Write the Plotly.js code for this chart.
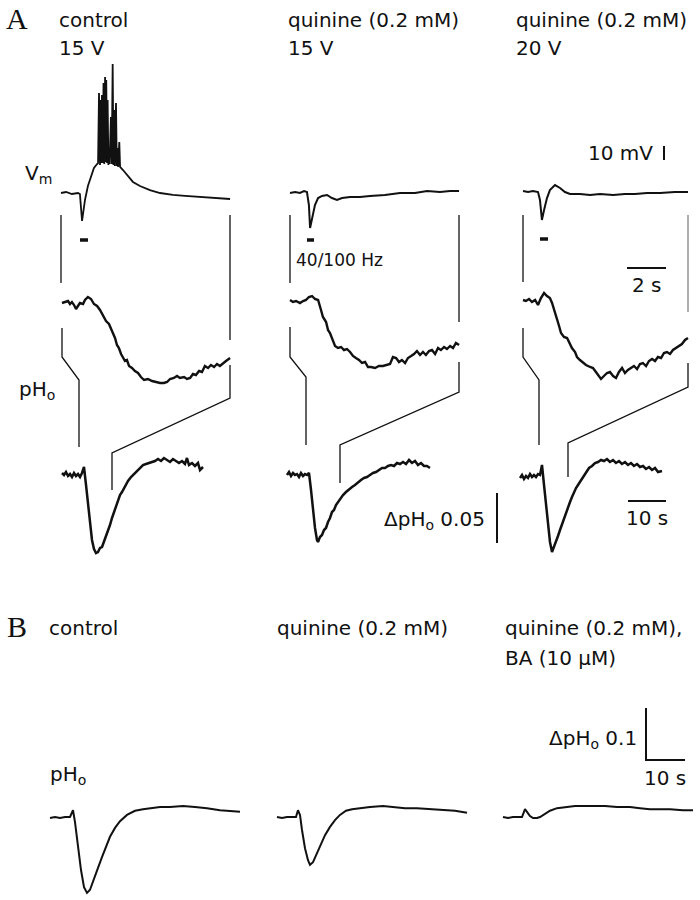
<!DOCTYPE html>
<html><head><meta charset="utf-8">
<script src="https://cdn.plot.ly/plotly-3.0.1.min.js"></script>
<style>html,body{margin:0;padding:0;background:#fff}</style>
</head><body><div id="chart" style="width:700px;height:900px"></div>
<script>
// ---------------- DATA (time in s, Vm in mV rel. to rest, pH change in pH units) ----------------
// Panel A, membrane potential traces (Vm)
const vmCtrlT = [0,0.26,0.56,0.87,0.97,1.03,1.08,1.13,1.23,1.38,1.54,1.69,1.85,1.90,1.95,2.0,2.04,2.07,2.10,2.14,2.18,2.22,2.26,2.29,2.32,2.36,2.39,2.43,2.46,2.49,2.56,2.60,2.65,2.69,2.72,2.76,2.82,2.86,2.90,2.93,2.99,3.03,3.18,3.44,3.69,4.05,4.56,5.08,5.74,6.36,7.13,7.90,8.67];
const vmCtrlV = [0,0.7,-0.7,0,-0.7,-8.6,-20,-15,-5,5,12.1,17.9,20.7,21.4,71.4,20,66.4,21.4,70,21.4,78.6,20.7,82.9,22.1,80.7,21.4,66.4,20,30.7,20.7,54.3,20.7,92.1,20,59.3,19.3,64.3,19.3,32.1,18.6,36.4,18.6,16.4,12.1,7.9,5,2.1,0,-1.4,-2.1,-2.9,-3.6,-4.3];
const vmQ15T = [0,0.26,0.51,0.72,0.87,0.97,1.03,1.13,1.28,1.44,1.64,1.90,2.15,2.41,2.67,3.08,3.59,4.10,4.87,5.64,6.41,7.03,7.69,8.21,8.67];
const vmQ15V = [0,0.7,0,1.4,0.7,-8.6,-25,-17.9,-8.6,-3.6,-2.1,-1.4,-3.6,-5,-3.6,-2.9,-2.9,-2.1,-1.4,0,0,1.4,0.7,1.4,1.4];
const vmQ20T = [0,0.26,0.51,0.77,0.87,0.97,1.08,1.23,1.38,1.64,1.90,2.15,2.41,2.92,3.44,3.95,4.62,5.23,5.74,6.36,7.03,7.79,8.46];
const vmQ20V = [1.4,0.7,1.4,0.7,-5,-19.3,-12.1,-3.6,2.1,5.7,3.6,0.7,-0.7,-0.7,-1.4,-0.7,-1.4,-0.7,-0.7,0,0,0.7,0.7];

// Panel A, pHo on the expanded time base (middle row)
const phMidCtrlT = [0.05,0.21,0.36,0.46,0.56,0.67,0.77,0.87,0.97,1.13,1.23,1.38,1.54,1.69,1.85,2.0,2.15,2.31,2.46,2.62,2.77,2.87,2.97,3.08,3.18,3.28,3.38,3.49,3.64,3.79,3.95,4.10,4.26,4.46,4.67,4.87,5.08,5.28,5.44,5.59,5.79,5.95,6.10,6.31,6.46,6.62,6.77,6.92,7.08,7.23,7.38,7.54,7.69,7.85,8.0,8.15,8.31,8.46,8.67];
const phMidCtrlV = [-0.003,-0.002,-0.001,-0.004,-0.002,-0.005,-0.009,-0.006,-0.003,-0.004,0,0.003,0.001,-0.004,-0.006,-0.010,-0.015,-0.021,-0.024,-0.031,-0.038,-0.045,-0.048,-0.054,-0.057,-0.061,-0.060,-0.066,-0.068,-0.071,-0.073,-0.077,-0.080,-0.079,-0.081,-0.082,-0.083,-0.083,-0.082,-0.079,-0.078,-0.076,-0.078,-0.077,-0.079,-0.078,-0.074,-0.075,-0.071,-0.072,-0.066,-0.068,-0.065,-0.067,-0.064,-0.066,-0.063,-0.061,-0.058];
const phMidQ15T = [0,0.15,0.31,0.51,0.67,0.82,0.97,1.13,1.28,1.44,1.59,1.69,1.85,1.95,2.05,2.21,2.31,2.46,2.62,2.77,2.92,3.08,3.23,3.38,3.54,3.69,3.85,4.0,4.15,4.36,4.56,4.77,4.97,5.13,5.28,5.44,5.59,5.74,5.90,6.05,6.21,6.36,6.51,6.67,6.82,6.97,7.13,7.28,7.44,7.59,7.74,7.90,8.05,8.21,8.36,8.51,8.67];
const phMidQ15V = [0,-0.002,-0.001,-0.003,-0.001,0,0.003,0.004,0.001,0,-0.010,-0.017,-0.022,-0.030,-0.033,-0.040,-0.046,-0.048,-0.047,-0.050,-0.049,-0.052,-0.056,-0.058,-0.060,-0.063,-0.062,-0.067,-0.067,-0.068,-0.066,-0.066,-0.065,-0.064,-0.057,-0.058,-0.062,-0.060,-0.063,-0.058,-0.056,-0.054,-0.051,-0.055,-0.052,-0.055,-0.051,-0.050,-0.054,-0.048,-0.050,-0.047,-0.049,-0.046,-0.048,-0.043,-0.045];
const phMidQ20T = [0,0.15,0.31,0.46,0.62,0.77,0.92,1.08,1.23,1.38,1.49,1.64,1.74,1.85,1.95,2.10,2.26,2.41,2.51,2.67,2.77,2.92,3.08,3.23,3.44,3.59,3.74,3.90,4.0,4.15,4.31,4.46,4.62,4.77,4.92,5.08,5.23,5.38,5.54,5.69,5.85,6.0,6.15,6.31,6.46,6.62,6.77,6.92,7.08,7.23,7.38,7.54,7.69,7.85,8.0,8.15,8.31,8.46];
const phMidQ20V = [0,-0.001,0.001,-0.002,0,-0.005,0.002,0.007,0.004,0.002,-0.003,-0.012,-0.018,-0.026,-0.033,-0.037,-0.038,-0.044,-0.048,-0.052,-0.057,-0.060,-0.063,-0.065,-0.067,-0.068,-0.072,-0.076,-0.079,-0.076,-0.073,-0.072,-0.076,-0.078,-0.072,-0.068,-0.073,-0.070,-0.068,-0.066,-0.069,-0.064,-0.063,-0.066,-0.061,-0.059,-0.061,-0.057,-0.058,-0.053,-0.052,-0.054,-0.050,-0.048,-0.046,-0.044,-0.040,-0.038];

// Panel A, pHo on the slow time base (bottom row)
const phSlowCtrlT = [0,0.53,1.05,1.58,2.11,2.63,3.16,3.68,4.21,4.74,5.26,5.79,6.32,6.84,7.37,7.89,8.42,8.95,9.47,10.0,10.53,11.05,11.58,12.11,12.63,13.16,13.68,14.21,14.74,15.26,15.79,16.58,17.37,18.16,18.95,19.74,20.53,21.32,22.11,22.89,23.68,24.47,25.26,26.05,26.84,27.63,28.42,29.21,30.0,30.79,31.58,32.37,32.89,33.42,34.21,35.0,35.79,36.32,37.11];
const phSlowCtrlV = [0.002,0,0.003,-0.001,0.001,-0.002,0.002,-0.001,0.001,-0.002,0.002,0.008,-0.010,-0.030,-0.050,-0.065,-0.074,-0.078,-0.077,-0.073,-0.072,-0.067,-0.062,-0.056,-0.050,-0.043,-0.037,-0.032,-0.025,-0.020,-0.017,-0.011,-0.006,-0.002,0.001,0.005,0.007,0.010,0.011,0.012,0.013,0.014,0.016,0.014,0.017,0.015,0.013,0.016,0.014,0.012,0.014,0.011,0.017,0.010,0.012,0.009,0.012,0.005,0.008];
const phSlowQ15T = [0,0.53,1.05,1.58,2.11,2.63,3.16,3.68,4.21,4.74,5.26,5.79,6.32,6.84,7.37,7.89,8.16,8.68,9.21,9.74,10.26,10.79,11.32,11.84,12.37,12.89,13.42,13.95,14.74,15.53,16.32,17.11,17.89,18.68,19.47,20.26,21.05,21.84,22.63,23.42,24.21,25.0,25.79,26.58,27.37,28.16,28.95,29.74,30.53,31.32,32.11,32.89,33.68,34.47,35.26,36.05,36.84,37.63];
const phSlowQ15V = [0,0.003,-0.001,0.002,0,0.001,-0.002,0.002,-0.001,0.001,0,0.002,-0.015,-0.035,-0.053,-0.065,-0.067,-0.062,-0.060,-0.055,-0.053,-0.047,-0.043,-0.037,-0.035,-0.030,-0.027,-0.024,-0.020,-0.017,-0.014,-0.012,-0.010,-0.007,-0.005,-0.003,-0.002,0,0.002,0.003,0.005,0.007,0.007,0.009,0.010,0.009,0.012,0.011,0.013,0.011,0.015,0.012,0.014,0.010,0.012,0.009,0.009,0.007];
const phSlowQ20T = [0,0.53,1.05,1.58,2.11,2.63,3.16,3.68,4.21,4.74,5.26,5.79,6.32,6.84,7.37,7.89,8.42,8.95,9.47,10.0,10.53,11.05,11.58,12.11,12.63,13.16,13.68,14.21,14.74,15.26,15.79,16.58,17.37,18.16,18.95,19.74,20.53,21.32,22.11,22.89,23.68,24.47,25.26,26.05,26.84,27.63,28.42,29.21,30.0,30.79,31.58,32.37,33.16,33.95,34.74,35.53,36.32,37.37];
const phSlowQ20V = [-0.003,0,-0.004,-0.001,-0.003,0.001,-0.002,0,-0.002,0.001,0,0.010,-0.010,-0.030,-0.050,-0.067,-0.077,-0.072,-0.067,-0.061,-0.055,-0.049,-0.043,-0.037,-0.031,-0.027,-0.022,-0.017,-0.013,-0.010,-0.007,-0.002,0.003,0.007,0.009,0.012,0.013,0.015,0.014,0.016,0.013,0.015,0.012,0.014,0.011,0.013,0.010,0.012,0.009,0.011,0.008,0.009,0.006,0.008,0.005,0.007,0.003,0.004];

// Panel B, pHo traces
const phBCtrlT = [0,1.28,2.56,3.85,5.13,5.64,5.90,6.41,7.18,7.95,8.72,9.49,10.26,11.28,12.31,13.33,14.36,15.38,16.67,17.95,19.74,21.79,23.85,25.64,28.21,30.77,34.10,37.18,40.26,43.59,46.15,48.72];
const phBCtrlV = [-0.002,0,-0.002,0,0,0.010,0.013,-0.010,-0.054,-0.102,-0.135,-0.146,-0.140,-0.121,-0.098,-0.077,-0.056,-0.038,-0.021,-0.008,0.004,0.012,0.015,0.017,0.019,0.019,0.021,0.019,0.017,0.013,0.012,0.010];
const phBQuinT = [0,1.28,2.56,3.85,4.87,5.38,5.90,6.41,7.18,7.95,8.46,9.23,10.26,11.28,12.31,13.59,14.87,16.15,17.69,19.23,21.28,23.85,27.18,30.26,32.82,35.90,39.23,42.56,45.64,48.72];
const phBQuinV = [0,-0.002,0,0,0,0.013,0.004,-0.025,-0.060,-0.083,-0.092,-0.087,-0.069,-0.050,-0.035,-0.019,-0.006,0.004,0.012,0.015,0.017,0.019,0.021,0.019,0.017,0.017,0.015,0.013,0.012,0.008];
const phBQuinBAT = [0,1.28,2.56,3.85,4.87,5.38,5.64,6.15,6.92,7.69,8.72,9.49,10.77,12.05,13.85,15.90,18.46,20.51,23.59,26.15,29.23,32.56,35.13,37.69,40.26,42.82,46.15,48.72];
const phBQuinBAV = [0,-0.002,0,0,0,0.010,0.015,0.010,0.002,-0.002,-0.002,0,0.006,0.012,0.017,0.019,0.021,0.021,0.021,0.021,0.019,0.019,0.017,0.015,0.015,0.015,0.013,0.013];

// Labels
const colTitlesA = [["control","15 V"],["quinine (0.2 mM)","15 V"],["quinine (0.2 mM)","20 V"]];
const colTitlesB = [["control"],["quinine (0.2 mM)"],["quinine (0.2 mM),","BA (10 µM)"]];

// ---------------- LAYOUT (pixel geometry of the figure) ----------------
const W = 700, H = 900;
const px = x => x / W;
const py = y => 1 - y / H;

// each panel: data, pixel origin of (t=0,value=0), px per unit, pixel box
const panels = [
  {t: vmCtrlT, v: vmCtrlV, x0: 61,  y0: 193, sx: 19.5, sy: 1.4, T: 50,  B: 240, w: 1.8},
  {t: vmQ15T,  v: vmQ15V,  x0: 290, y0: 193, sx: 19.5, sy: 1.4, T: 50,  B: 240, w: 2.0},
  {t: vmQ20T,  v: vmQ20V,  x0: 523, y0: 193, sx: 19.5, sy: 1.4, T: 50,  B: 240, w: 2.0},
  {t: phMidCtrlT, v: phMidCtrlV, x0: 61,  y0: 300, sx: 19.5, sy: 1000, T: 280, B: 400, w: 2.4},
  {t: phMidQ15T,  v: phMidQ15V,  x0: 290, y0: 300, sx: 19.5, sy: 1000, T: 280, B: 400, w: 2.4},
  {t: phMidQ20T,  v: phMidQ20V,  x0: 523, y0: 300, sx: 19.5, sy: 1000, T: 280, B: 400, w: 2.4},
  {t: phSlowCtrlT, v: phSlowCtrlV, x0: 62,  y0: 475, sx: 3.8, sy: 1000, T: 440, B: 575, w: 2.5},
  {t: phSlowQ15T,  v: phSlowQ15V,  x0: 287, y0: 475, sx: 3.8, sy: 1000, T: 440, B: 575, w: 2.5},
  {t: phSlowQ20T,  v: phSlowQ20V,  x0: 520, y0: 475, sx: 3.8, sy: 1000, T: 440, B: 575, w: 2.5},
  {t: phBCtrlT,   v: phBCtrlV,   x0: 50,  y0: 817, sx: 3.9, sy: 520, T: 780, B: 900, w: 2.0},
  {t: phBQuinT,   v: phBQuinV,   x0: 277, y0: 817, sx: 3.9, sy: 520, T: 780, B: 900, w: 2.0},
  {t: phBQuinBAT, v: phBQuinBAV, x0: 503, y0: 817, sx: 3.9, sy: 520, T: 780, B: 900, w: 2.0}
];

const traces = [];
const layout = {
  width: W, height: H, margin: {l: 0, r: 0, t: 0, b: 0},
  paper_bgcolor: '#fff', plot_bgcolor: 'rgba(0,0,0,0)',
  showlegend: false, shapes: [], annotations: []
};

panels.forEach((p, i) => {
  const n = i + 1;
  const L = p.x0 - 8, R = p.x0 + 200;
  const xa = n === 1 ? 'xaxis' : 'xaxis' + n;
  const ya = n === 1 ? 'yaxis' : 'yaxis' + n;
  layout[xa] = {domain: [px(L), Math.min(1, px(R))], range: [(L - p.x0) / p.sx, (Math.min(W, R) - p.x0) / p.sx],
                visible: false, fixedrange: true};
  layout[ya] = {domain: [py(p.B), py(p.T)], range: [(p.y0 - p.B) / p.sy, (p.y0 - p.T) / p.sy],
                visible: false, fixedrange: true};
  traces.push({x: p.t, y: p.v, type: 'scatter', mode: 'lines',
               xaxis: n === 1 ? 'x' : 'x' + n, yaxis: n === 1 ? 'y' : 'y' + n,
               line: {color: '#111', width: p.w}, hoverinfo: 'skip'});
});

function poly(points, width, color) {
  const d = points.map((pt, k) => (k ? 'L' : 'M') + px(pt[0]) + ',' + py(pt[1])).join(' ');
  layout.shapes.push({type: 'path', xref: 'paper', yref: 'paper', path: d,
                      line: {color: color || '#111', width: width || 1.3}});
}
// bracket lines linking the time windows
poly([[61,215],[61,283]]); poly([[62,328],[62,357],[79,380],[79,447]]);
poly([[230,215],[230,340]]); poly([[230,365],[230,398],[112,453],[112,490]]);
poly([[290,215],[290,283]]); poly([[290,327],[290,357],[306,377],[306,445]]);
poly([[459,215],[459,322]]); poly([[459,362],[459,392],[340,445],[340,483]]);
poly([[523,215],[523,282]]); poly([[523,328],[523,357],[539,380],[539,445]]);
poly([[688,215],[688,312]], 1.2, '#777'); poly([[688,363],[688,387],[568,443],[568,477]]);
// stimulus bars
poly([[80,240],[88,240]], 3.5); poly([[307,240],[314,240]], 3.5); poly([[540,239],[548,239]], 3.5);
// scale bars
poly([[664,146],[664,160]], 2);             // 10 mV
poly([[627,268],[666,268]], 2);             // 2 s
poly([[497,493],[497,543]], 2);             // dpH 0.05
poly([[628,501],[666,501]], 2);             // 10 s (A)
poly([[646,708],[646,760],[685,760]], 2);   // dpH 0.1 / 10 s (B)

const SANS = 'DejaVu Sans, Liberation Sans, Arial, sans-serif';
function ann(text, x, y, anchor, size, family) {
  layout.annotations.push({text: text, x: px(x), y: py(y), xref: 'paper', yref: 'paper',
    xanchor: anchor || 'left', yanchor: 'middle', showarrow: false,
    font: {family: family || SANS, size: size || 20, color: '#111'}});
}
ann('A', 17, 19, 'center', 30, 'Liberation Serif, Times New Roman, serif');
ann('B', 17, 626, 'center', 30, 'Liberation Serif, Times New Roman, serif');
const colX = [57, 286, 514];
colTitlesA.forEach((c, i) => { ann(c[0], colX[i], 20); ann(c[1], colX[i], 48); });
const colXB = [47, 275, 503];
colTitlesB.forEach((c, i) => { c.forEach((s, k) => ann(s, colXB[i], 628 + 30 * k)); });
ann('V<sub>m</sub>', 23, 174);
ann('pH<sub>o</sub>', 17, 390);
ann('pH<sub>o</sub>', 48, 775);
ann('40/100 Hz', 294, 260, 'left', 17);
ann('10 mV', 655, 153, 'right');
ann('2 s', 647, 285, 'center');
ann('ΔpH<sub>o</sub> 0.05', 487, 520, 'right');
ann('10 s', 647, 518, 'center');
ann('ΔpH<sub>o</sub> 0.1', 639, 739, 'right');
ann('10 s', 665, 778, 'center');

Plotly.newPlot('chart', traces, layout, {staticPlot: true, displayModeBar: false});
</script>
</body></html>
